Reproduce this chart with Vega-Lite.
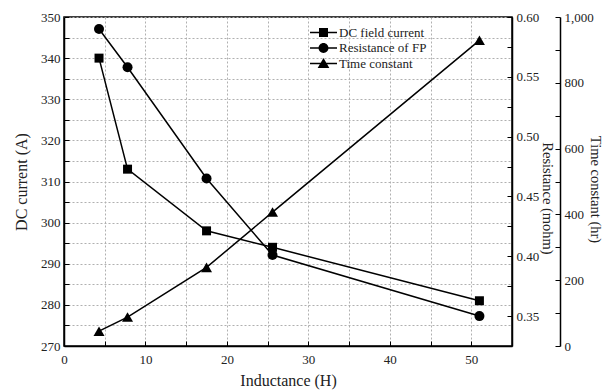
{
  "$schema": "https://vega.github.io/schema/vega-lite/v6.json",
  "width": 448,
  "height": 329,
  "autosize": "none",
  "padding": {"left": 64, "top": 17, "right": 99, "bottom": 44},
  "background": "white",
  "config": {
    "font": "Liberation Serif",
    "view": {"stroke": "black", "strokeWidth": 1.5},
    "axis": {
      "labelFont": "Liberation Serif", "titleFont": "Liberation Serif",
      "labelFontSize": 13, "titleFontSize": 16, "titleFontWeight": "normal",
      "labelColor": "#222", "titleColor": "#222",
      "domainColor": "black", "domainWidth": 1.5,
      "tickColor": "black", "tickWidth": 1, "tickSize": -5, "labelPadding": 9,
      "gridColor": "#b0b0b0", "gridDash": [2, 2], "gridWidth": 1,
      "labelFlush": false, "labelOverlap": false
    },
    "legend": {
      "labelFont": "Liberation Serif", "labelFontSize": 13, "labelColor": "#222",
      "symbolOpacity": 1, "symbolFillColor": "black", "symbolStrokeWidth": 0,
      "symbolSize": 81
    }
  },
  "data": {"values": [
    {"L": 4.3, "I": 340, "R": 0.590, "T": 45},
    {"L": 7.8, "I": 313, "R": 0.558, "T": 88},
    {"L": 17.5, "I": 298, "R": 0.465, "T": 239},
    {"L": 25.6, "I": 294, "R": 0.401, "T": 407},
    {"L": 51.0, "I": 281, "R": 0.350, "T": 929}
  ]},
  "encoding": {
    "x": {
      "field": "L", "type": "quantitative",
      "scale": {"domain": [0, 55], "nice": false},
      "axis": {
        "title": "Inductance (H)", "values": [0, 5, 10, 15, 20, 25, 30, 35, 40, 45, 50],
        "labelExpr": "datum.value % 10 === 0 ? datum.label : ''",
        "labelFont": "Liberation Serif", "labelPadding": 12,
        "grid": true, "titlePadding": 6
      }
    }
  },
  "layer": [
    {
      "encoding": {
        "y": {
          "field": "I", "type": "quantitative",
          "scale": {"domain": [270, 350], "nice": false, "zero": false},
          "axis": {
            "title": "DC current (A)", "orient": "left",
            "values": [270, 275, 280, 285, 290, 295, 300, 305, 310, 315, 320, 325, 330, 335, 340, 345, 350],
            "labelExpr": "datum.value % 10 === 0 ? datum.label : ''",
            "labelFont": "Liberation Serif",
            "grid": true, "titlePadding": 11
          }
        }
      },
      "layer": [
        {"mark": {"type": "line", "color": "black", "strokeWidth": 1.5}},
        {"mark": {"type": "point", "shape": "square", "filled": true, "color": "black", "opacity": 1, "size": 81}},
        {
          "mark": {"type": "point", "filled": true, "color": "black", "opacity": 0, "size": 81},
          "encoding": {
            "shape": {
              "datum": "DC field current", "type": "nominal",
              "scale": {
                "domain": ["DC field current", "Resistance of FP", "Time constant"],
                "range": [
                  "M-3,-0.17H-1V-1H1V-0.17H3V0.17H1V1H-1V0.17H-3Z",
                  "M-3,-0.17H-0.9V0.17H-3Z M0.9,-0.17H3V0.17H0.9Z M-1.1,0A1.1,1.1 0 1,1 1.1,0A1.1,1.1 0 1,1 -1.1,0Z",
                  "M-3,-0.17H-0.5V0.17H-3Z M0.5,-0.17H3V0.17H0.5Z M0,-1.2L1.3,1H-1.3Z"
                ]
              },
              "legend": {
                "title": null, "orient": "none", "legendX": 253, "legendY": 9,
                "padding": 0, "rowPadding": 1.5, "labelOffset": 9,
                "labelFont": "Liberation Serif"
              }
            }
          }
        }
      ]
    },
    {
      "encoding": {
        "y": {
          "field": "R", "type": "quantitative",
          "scale": {"domain": [0.325, 0.6], "nice": false, "zero": false},
          "axis": {
            "title": "Resistance (mohm)", "orient": "right",
            "values": [0.35, 0.375, 0.4, 0.425, 0.45, 0.475, 0.5, 0.525, 0.55, 0.575, 0.6],
            "labelExpr": "abs(datum.value * 20 - round(datum.value * 20)) < 0.001 ? format(datum.value, '.2f') : ''",
            "labelFont": "Liberation Serif",
            "grid": false, "titlePadding": 1, "titleFontSize": 14.5, "titleY": 181
          }
        }
      },
      "layer": [
        {"mark": {"type": "line", "color": "black", "strokeWidth": 1.5}},
        {"mark": {"type": "point", "shape": "circle", "filled": true, "color": "black", "opacity": 1, "size": 100}},
        {
          "mark": {"type": "point", "filled": true, "color": "black", "opacity": 0, "size": 81},
          "encoding": {"shape": {"datum": "Resistance of FP", "type": "nominal"}}
        }
      ]
    },
    {
      "encoding": {
        "y": {
          "field": "T", "type": "quantitative",
          "scale": {"domain": [0, 1000], "nice": false},
          "axis": {
            "title": "Time constant (hr)", "orient": "right", "offset": 48,
            "values": [0, 100, 200, 300, 400, 500, 600, 700, 800, 900, 1000],
            "labelExpr": "datum.value % 200 === 0 ? format(datum.value, ',') : ''",
            "labelFont": "Liberation Serif",
            "grid": false, "titlePadding": -6, "titleFontSize": 14.5, "titleY": 172
          }
        }
      },
      "layer": [
        {"mark": {"type": "line", "color": "black", "strokeWidth": 1.5}},
        {"mark": {"type": "point", "shape": "triangle-up", "filled": true, "color": "black", "opacity": 1, "size": 121}},
        {
          "mark": {"type": "point", "filled": true, "color": "black", "opacity": 0, "size": 81},
          "encoding": {"shape": {"datum": "Time constant", "type": "nominal"}}
        }
      ]
    }
  ],
  "resolve": {"scale": {"y": "independent"}}
}
